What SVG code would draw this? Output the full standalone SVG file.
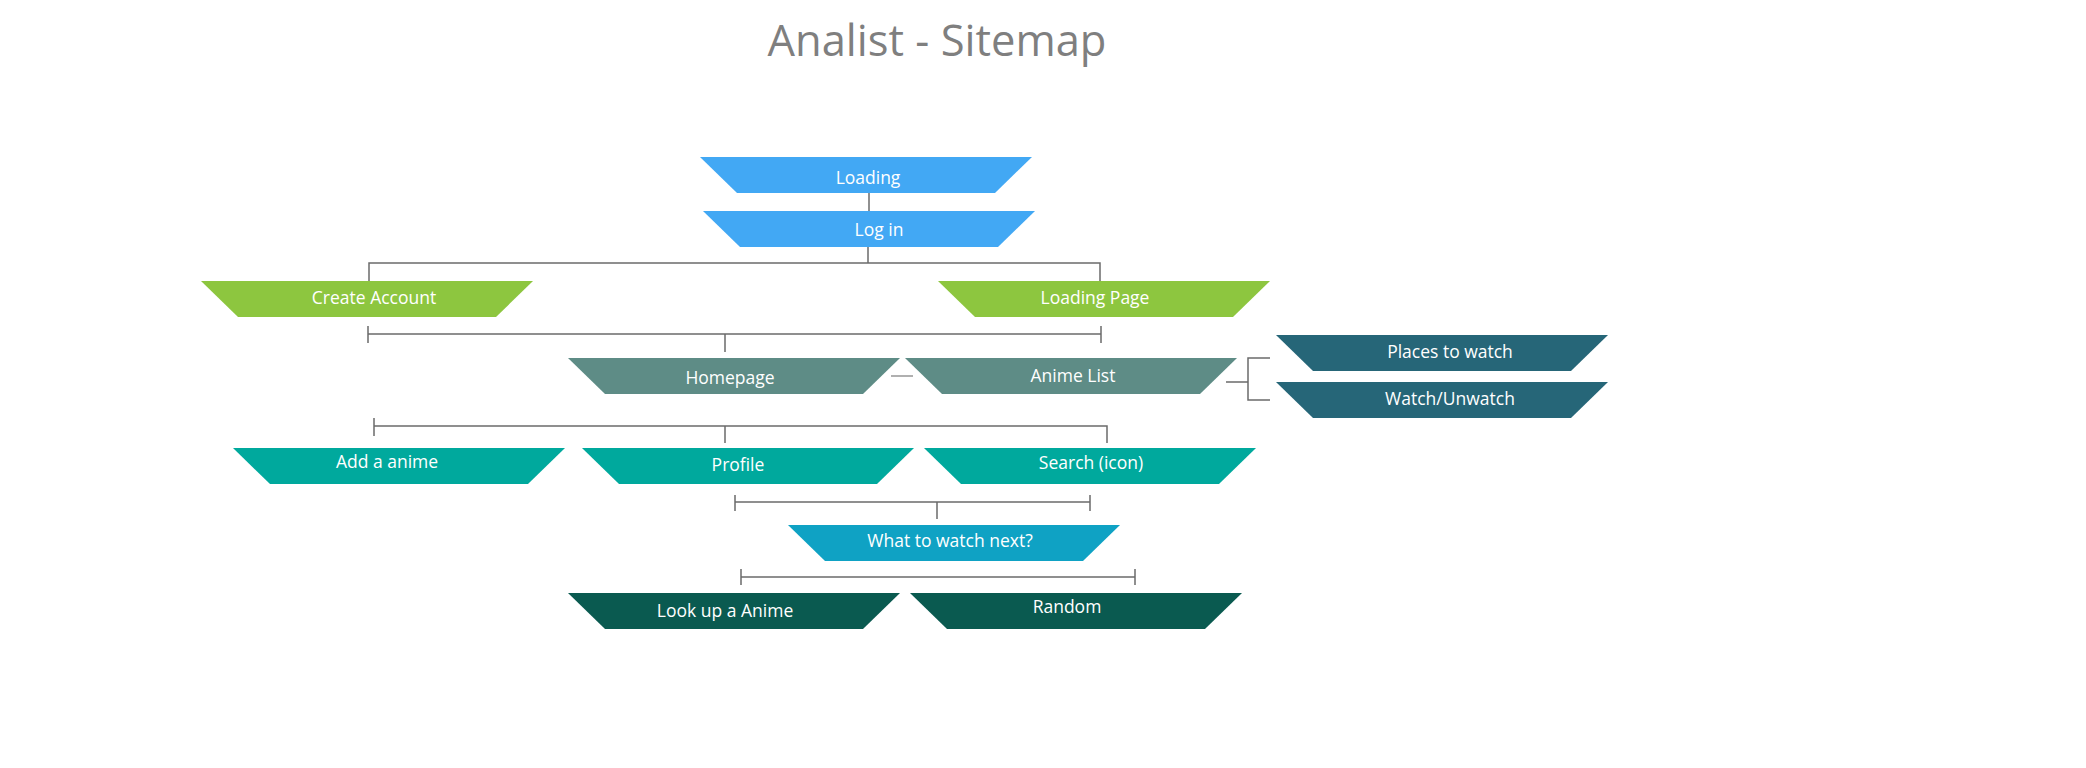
<svg xmlns="http://www.w3.org/2000/svg" width="2086" height="768" viewBox="0 0 2086 768">
<defs>
<path id="trap" d="M0,0 H332 L295,36 H37 Z"/>
</defs>
<style>
.t{font-family:"Open Sans","Noto Sans",sans-serif;font-size:17.5px;fill:#ffffff;text-anchor:middle}
.title{font-family:"Open Sans","Noto Sans",sans-serif;font-size:43.5px;fill:#7f7f7f;text-anchor:middle}
.c{stroke:#6b6b6b;stroke-width:1.5;fill:none}
.blue{fill:#42A8F4}.green{fill:#8DC63F}.sage{fill:#5E8C86}.navy{fill:#266678}.teal{fill:#00A99D}.cyan{fill:#0FA2C4}.dgreen{fill:#0A5A50}
</style>
<rect width="2086" height="768" fill="#ffffff"/>
<text class="title" x="937" y="56">Analist - Sitemap</text>
<g id="connectors">
<path class="c" d="M869,193 V211"/>
<path class="c" d="M868,247 V263 M369,281 V263 H1100 V281"/>
<path class="c" d="M368,334 H1101 M368,326 V343 M1101,326 V343 M725,334 V352"/>
<path d="M891,376 H913" stroke="#b0b0b0" stroke-width="2"/>
<path class="c" d="M1226,382 H1248 M1270,358 H1248 V400 H1270" stroke="#888"/>
<path class="c" d="M374,426 H1107 V443 M374,418 V436 M725,426 V443"/>
<path class="c" d="M735,502 H1090 M735,495 V511 M1090,495 V511 M937,502 V519"/>
<path class="c" d="M741,577 H1135 M741,569 V585 M1135,569 V585"/>
</g>
<g id="loading"><use href="#trap" class="blue" x="700" y="157"/><text class="t" x="868" y="184">Loading</text></g>
<g id="login"><use href="#trap" class="blue" x="703" y="211"/><text class="t" x="879" y="236">Log in</text></g>
<g id="create-account"><use href="#trap" class="green" x="201" y="281"/><text class="t" x="374" y="304">Create Account</text></g>
<g id="loading-page"><use href="#trap" class="green" x="938" y="281"/><text class="t" x="1095" y="304">Loading Page</text></g>
<g id="homepage"><use href="#trap" class="sage" x="568" y="358"/><text class="t" x="730" y="384">Homepage</text></g>
<g id="anime-list"><use href="#trap" class="sage" x="905" y="358"/><text class="t" x="1073" y="382">Anime List</text></g>
<g id="places-to-watch"><use href="#trap" class="navy" x="1276" y="335"/><text class="t" x="1450" y="358">Places to watch</text></g>
<g id="watch-unwatch"><use href="#trap" class="navy" x="1276" y="382"/><text class="t" x="1450" y="405">Watch/Unwatch</text></g>
<g id="add-anime"><use href="#trap" class="teal" x="233" y="448"/><text class="t" x="387" y="468">Add a anime</text></g>
<g id="profile"><use href="#trap" class="teal" x="582" y="448"/><text class="t" x="738" y="471">Profile</text></g>
<g id="search"><use href="#trap" class="teal" x="924" y="448"/><text class="t" x="1091" y="469">Search (icon)</text></g>
<g id="what-next"><use href="#trap" class="cyan" x="788" y="525"/><text class="t" x="950" y="547">What to watch next?</text></g>
<g id="look-up"><use href="#trap" class="dgreen" x="568" y="593"/><text class="t" x="725" y="617">Look up a Anime</text></g>
<g id="random"><use href="#trap" class="dgreen" x="910" y="593"/><text class="t" x="1067" y="613">Random</text></g>
</svg>
